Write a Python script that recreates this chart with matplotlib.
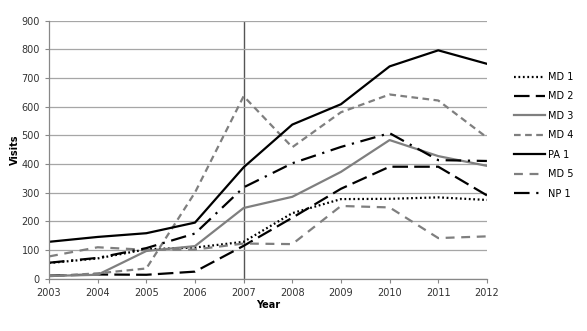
import matplotlib
matplotlib.use("Agg")
import matplotlib.pyplot as plt

years = [2003, 2004, 2005, 2006, 2007, 2008, 2009, 2010, 2011, 2012]
md1 = [54, 70, 102, 108, 128, 228, 277, 278, 283, 274]
md2 = [10, 14, 13, 24, 114, 212, 313, 390, 390, 290]
md3 = [9, 13, 96, 113, 246, 285, 372, 483, 427, 393]
md4 = [8, 18, 35, 300, 636, 458, 580, 642, 621, 492]
pa1 = [128, 145, 158, 195, 388, 537, 608, 740, 796, 749]
md5 = [77, 109, 100, 101, 122, 120, 253, 248, 141, 147]
np1 = [55, 72, 106, 157, 318, 402, 459, 507, 413, 410]

series_names = ["MD 1", "MD 2", "MD 3", "MD 4", "PA 1", "MD 5", "NP 1"]
yticks = [0, 100, 200, 300, 400, 500, 600, 700, 800, 900]

BLACK = "#000000"
GRAY = "#7f7f7f"
styles = [
    (md1, BLACK, (0, (0.8, 1.2))),
    (md2, BLACK, (0, (7, 2.8))),
    (md3, GRAY, "-"),
    (md4, GRAY, (0, (3, 2))),
    (pa1, BLACK, "-"),
    (md5, GRAY, (0, (4, 3))),
    (np1, BLACK, (0, (7, 3, 1, 3))),
]

fig = plt.figure(figsize=(5.87, 3.31), dpi=100)
ax = fig.add_axes([0.0835, 0.1586, 0.746, 0.7794])

for name, (vals, col, ls) in zip(series_names, styles):
    ax.plot(years, vals, color=col, linestyle=ls, linewidth=1.6, label=name)

ax.axvline(2007, color="#555555", linewidth=1.0, zorder=0)

ax.set_xlim(2003, 2012)
ax.set_ylim(0, 900)
ax.set_xticks(years)
ax.set_yticks(yticks)
ax.grid(axis="y", color="#a6a6a6", linewidth=0.9)
ax.set_axisbelow(True)
for s in ["top", "right"]:
    ax.spines[s].set_visible(False)
for s in ["left", "bottom"]:
    ax.spines[s].set_color("#888888")
    ax.spines[s].set_linewidth(0.9)
ax.tick_params(axis="both", labelsize=7, colors="#333333", length=3, width=0.8)
ax.tick_params(axis="both", color="#888888")

ax.set_xlabel("Year", fontsize=7, fontweight="bold", labelpad=2)
ax.set_ylabel("Visits", fontsize=7, fontweight="bold", labelpad=1)

leg = ax.legend(loc="center left", bbox_to_anchor=(1.042, 0.555), frameon=False,
                fontsize=7, handlelength=3.2, handletextpad=0.3, labelspacing=0.97)

fig.savefig("out.png", dpi=100)
